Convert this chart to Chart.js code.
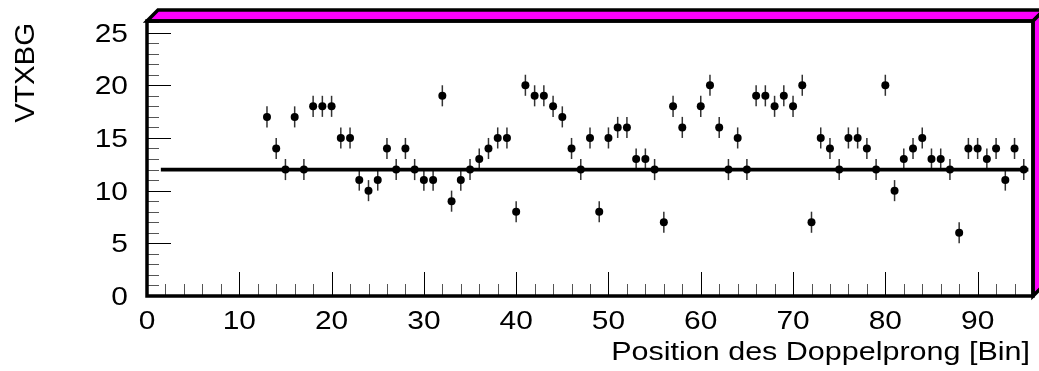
<!DOCTYPE html>
<html>
<head>
<meta charset="utf-8">
<script src="https://cdn.jsdelivr.net/npm/chart.js@4.4.0/dist/chart.umd.min.js"></script>
<style>
    html, body { margin: 0; padding: 0; background: #fff; }
    #wrap { width: 1039px; height: 371px; }
</style>
</head>
<body>
<div id="wrap"><canvas id="chart" width="1039" height="371"></canvas></div>
<script>
    // bin positions and entries (bin 59 is empty)
    var binPos = [13, 14, 15, 16, 17, 18, 19, 20, 21, 22, 23, 24, 25, 26, 27, 28, 29, 30,
                  31, 32, 33, 34, 35, 36, 37, 38, 39, 40, 41, 42, 43, 44, 45, 46, 47, 48,
                  49, 50, 51, 52, 53, 54, 55, 56, 57, 58, 60, 61, 62, 63, 64, 65, 66, 67,
                  68, 69, 70, 71, 72, 73, 74, 75, 76, 77, 78, 79, 80, 81, 82, 83, 84, 85,
                  86, 87, 88, 89, 90, 91, 92, 93, 94, 95];
    var counts = [17, 14, 12, 17, 12, 18, 18, 18, 15, 15, 11, 10, 11, 14, 12, 14, 12, 11,
                  11, 19, 9, 11, 12, 13, 14, 15, 15, 8, 20, 19, 19, 18, 17, 14, 12, 15,
                  8, 15, 16, 16, 13, 13, 12, 7, 18, 16, 18, 20, 16, 12, 15, 12, 19, 19,
                  18, 19, 18, 20, 7, 15, 14, 12, 15, 15, 14, 12, 20, 10, 13, 14, 15, 13,
                  13, 12, 6, 14, 14, 13, 14, 11, 14, 12];
    var errHalf = 1;
    var fitLevel = 12;
    var fitRange = [1.5, 95.5];
    var xRange = [0, 96];
    var yRange = [0, 26.1];
    var xTitle = 'Position des Doppelprong [Bin]';
    var yTitle = 'VTXBG';

    var FONT = "'Liberation Sans', Arial, sans-serif";

    function drawText(ctx, text, x, y, align, baseline, size, sx, rot) {
        ctx.save();
        ctx.translate(x, y);
        if (rot) {
            ctx.rotate(rot);
        }
        ctx.scale(sx, 1);
        ctx.font = size + 'px ' + FONT;
        ctx.textAlign = align;
        ctx.textBaseline = baseline;
        ctx.fillStyle = '#000';
        ctx.fillText(text, 0, 0);
        ctx.restore();
    }

    // error bars go under the markers
    var errorBars = {
        id: 'errorBars',
        beforeDatasetsDraw: function (chart) {
            var ctx = chart.ctx;
            var xs = chart.scales.x, ys = chart.scales.y;
            ctx.save();
            ctx.strokeStyle = '#333';
            ctx.lineWidth = 1.5;
            binPos.forEach(function (b, i) {
                var px = xs.getPixelForValue(b);
                ctx.beginPath();
                ctx.moveTo(px, ys.getPixelForValue(counts[i] - errHalf));
                ctx.lineTo(px, ys.getPixelForValue(counts[i] + errHalf));
                ctx.stroke();
            });
            ctx.restore();
        }
    };

    // ROOT style frame: 3D box, inward ticks, stretched labels
    var rootFrame = {
        id: 'rootFrame',
        afterDraw: function (chart) {
            var ctx = chart.ctx;
            var a = chart.chartArea;
            var xs = chart.scales.x, ys = chart.scales.y;
            var L = a.left, R = a.right, T = a.top, B = a.bottom, d = 11;
            var v, p;

            ctx.save();
            // ticks
            ctx.lineWidth = 1;
            for (v = Math.ceil(ys.min); v <= ys.max; v++) {
                p = Math.round(ys.getPixelForValue(v)) + 0.5;
                ctx.strokeStyle = v % 5 === 0 ? '#000' : '#555';
                ctx.beginPath();
                ctx.moveTo(L, p);
                ctx.lineTo(L + (v % 5 === 0 ? 24 : 12), p);
                ctx.stroke();
            }
            for (v = Math.ceil(xs.min); v <= xs.max; v += 2) {
                p = Math.round(xs.getPixelForValue(v)) + 0.5;
                ctx.strokeStyle = v % 10 === 0 ? '#000' : '#555';
                ctx.beginPath();
                ctx.moveTo(p, B);
                ctx.lineTo(p, B - (v % 10 === 0 ? 24 : 12));
                ctx.stroke();
            }

            // 3D box faces
            ctx.fillStyle = '#ff00ff';
            ctx.strokeStyle = '#000';
            ctx.lineWidth = 3.5;
            ctx.lineJoin = 'miter';
            ctx.beginPath();
            ctx.moveTo(L, T);
            ctx.lineTo(L + d, T - d);
            ctx.lineTo(R + d, T - d);
            ctx.lineTo(R, T);
            ctx.closePath();
            ctx.fill();
            ctx.stroke();
            ctx.beginPath();
            ctx.moveTo(R, T);
            ctx.lineTo(R + d, T - d);
            ctx.lineTo(R + d, B - d);
            ctx.lineTo(R, B);
            ctx.closePath();
            ctx.fill();
            ctx.stroke();
            ctx.strokeRect(L, T, R - L, B - T);
            ctx.restore();

            // tick labels from the scales
            ys.ticks.forEach(function (t) {
                drawText(ctx, t.label, L - 19, ys.getPixelForValue(t.value) + 2, 'right', 'middle', 26, 1.15);
            });
            xs.ticks.forEach(function (t) {
                drawText(ctx, t.label, xs.getPixelForValue(t.value), 322, 'center', 'middle', 26, 1.15);
            });

            // axis titles
            drawText(ctx, xTitle, R - 3, 360, 'right', 'alphabetic', 25, 1.22);
            drawText(ctx, yTitle, 33.5, T + 2, 'right', 'alphabetic', 28, 1.05, -Math.PI / 2);
        }
    };

    var points = binPos.map(function (b, i) {
        return {x: b, y: counts[i]};
    });

    new Chart(document.getElementById('chart').getContext('2d'), {
        type: 'scatter',
        data: {
            datasets: [{
                label: yTitle,
                data: points,
                pointRadius: 4,
                pointBackgroundColor: '#000',
                pointBorderWidth: 0,
                order: 0
            }, {
                label: 'fit',
                data: [{x: fitRange[0], y: fitLevel}, {x: fitRange[1], y: fitLevel}],
                showLine: true,
                borderColor: '#000',
                borderWidth: 3.7,
                pointRadius: 0,
                order: 1
            }]
        },
        options: {
            responsive: false,
            devicePixelRatio: 1,
            animation: false,
            layout: {padding: {left: 147, top: 21, right: 6, bottom: 75}},
            plugins: {
                legend: {display: false},
                tooltip: {enabled: false}
            },
            scales: {
                x: {
                    type: 'linear',
                    display: false,
                    min: xRange[0],
                    max: xRange[1],
                    ticks: {stepSize: 10, includeBounds: false}
                },
                y: {
                    type: 'linear',
                    display: false,
                    min: yRange[0],
                    max: yRange[1],
                    ticks: {stepSize: 5, includeBounds: false}
                }
            }
        },
        plugins: [errorBars, rootFrame]
    });
</script>
</body>
</html>
